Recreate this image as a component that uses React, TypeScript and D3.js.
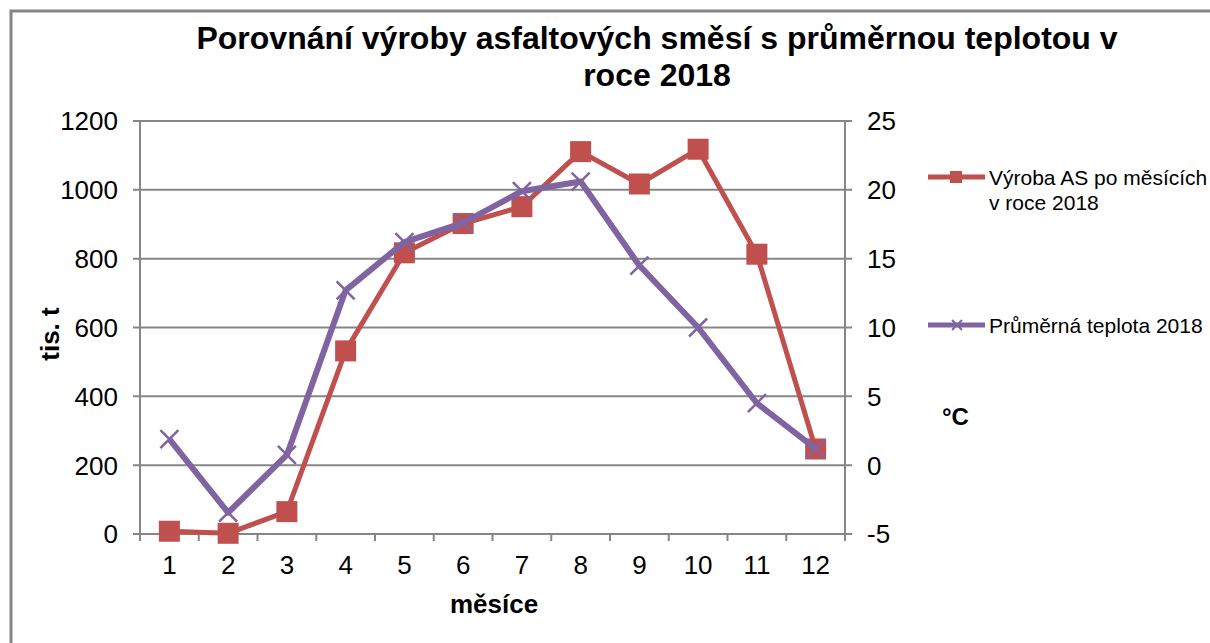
import { useEffect, useRef } from 'react'
import * as d3 from 'd3'

const months = ['1', '2', '3', '4', '5', '6', '7', '8', '9', '10', '11', '12']
const production = [8, 2, 65, 532, 817, 902, 951, 1111, 1017, 1118, 813, 247]
const temperature = [1.9, -3.45, 0.74, 12.7, 16.2, 17.6, 19.9, 20.6, 14.5, 10.0, 4.5, 1.2]
const leftTicks = [0, 200, 400, 600, 800, 1000, 1200]
const rightTicks = [-5, 0, 5, 10, 15, 20, 25]

const seriesNames = ['Výroba AS po měsících', 'v roce 2018', 'Průměrná teplota 2018']

const RED = '#C0504D'
const PURPLE = '#8064A2'
const GRID = '#868686'

export default function App() {
  const svgRef = useRef<SVGSVGElement>(null)
  const width = 1210
  const height = 643

  useEffect(() => {
    if (!svgRef.current) return
    const svg = d3.select(svgRef.current)
    svg.selectAll('*').remove()

    const left = 140
    const right = 845
    const top = 121
    const bottom = 534
    const font = 'Liberation Sans, Arial, sans-serif'

    // outer frame (only top and left edges are visible)
    svg.append('rect')
      .attr('x', 11).attr('y', 11)
      .attr('width', 2000).attr('height', 2000)
      .attr('fill', 'white')
      .attr('stroke', GRID).attr('stroke-width', 3)

    const x = d3.scaleBand<string>().domain(months).range([left, right])
    const yL = d3.scaleLinear().domain([0, 1200]).range([bottom, top])
    const yR = d3.scaleLinear().domain([-5, 25]).range([bottom, top])

    // gridlines + left ticks
    leftTicks.forEach(t => {
      svg.append('line')
        .attr('x1', left - 7).attr('x2', right + 7)
        .attr('y1', yL(t)).attr('y2', yL(t))
        .attr('stroke', GRID).attr('stroke-width', 2)
      svg.append('text')
        .attr('x', 118).attr('y', yL(t))
        .attr('dy', '0.36em')
        .attr('text-anchor', 'end')
        .style('font-family', font).style('font-size', '26px')
        .attr('fill', '#000')
        .text(t)
    })

    rightTicks.forEach(t => {
      svg.append('text')
        .attr('x', 867).attr('y', yR(t))
        .attr('dy', '0.36em')
        .style('font-family', font).style('font-size', '26px')
        .attr('fill', '#000')
        .text(t)
    })

    // vertical axes
    svg.append('line')
      .attr('x1', left).attr('x2', left).attr('y1', top).attr('y2', bottom + 7)
      .attr('stroke', GRID).attr('stroke-width', 2)
    svg.append('line')
      .attr('x1', right).attr('x2', right).attr('y1', top).attr('y2', bottom + 7)
      .attr('stroke', GRID).attr('stroke-width', 2)

    // x ticks at band edges
    months.forEach((m, i) => {
      const bx = (x(m) ?? 0) + x.bandwidth()
      if (i < months.length - 1) {
        svg.append('line')
          .attr('x1', bx).attr('x2', bx).attr('y1', bottom).attr('y2', bottom + 7)
          .attr('stroke', GRID).attr('stroke-width', 2)
      }
      svg.append('text')
        .attr('x', (x(m) ?? 0) + x.bandwidth() / 2).attr('y', 574)
        .attr('text-anchor', 'middle')
        .style('font-family', font).style('font-size', '26px')
        .attr('fill', '#000')
        .text(m)
    })

    const cx = (i: number) => (x(months[i]) ?? 0) + x.bandwidth() / 2

    // production line
    const lineL = d3.line<number>().x((_, i) => cx(i)).y(d => yL(d))
    svg.append('path')
      .attr('d', lineL(production) || '')
      .attr('fill', 'none').attr('stroke', RED).attr('stroke-width', 5)
      .attr('stroke-linejoin', 'round')
    const sq = 21
    svg.selectAll('rect.sq')
      .data(production)
      .enter()
      .append('rect')
      .attr('class', 'sq')
      .attr('x', (_, i) => cx(i) - sq / 2)
      .attr('y', d => yL(d) - sq / 2)
      .attr('width', sq).attr('height', sq)
      .attr('fill', RED)

    // temperature line
    const lineR = d3.line<number>().x((_, i) => cx(i)).y(d => yR(d))
    svg.append('path')
      .attr('d', lineR(temperature) || '')
      .attr('fill', 'none').attr('stroke', PURPLE).attr('stroke-width', 6)
      .attr('stroke-linejoin', 'round')
    const xm = 9
    temperature.forEach((d, i) => {
      const px = cx(i)
      const py = yR(d)
      svg.append('path')
        .attr('d', `M${px - xm},${py - xm}L${px + xm},${py + xm}M${px - xm},${py + xm}L${px + xm},${py - xm}`)
        .attr('stroke', PURPLE).attr('stroke-width', 2.5)
    })

    // title
    const title = svg.append('text')
      .attr('text-anchor', 'middle')
      .style('font-family', font).style('font-size', '32px').style('font-weight', 'bold')
      .attr('fill', '#000')
    title.append('tspan').attr('x', 657).attr('y', 49).text('Porovnání výroby asfaltových směsí s průměrnou teplotou v')
    title.append('tspan').attr('x', 657).attr('y', 86).text('roce 2018')

    // axis titles
    svg.append('text')
      .attr('transform', 'translate(59,334) rotate(-90)')
      .attr('text-anchor', 'middle')
      .style('font-family', font).style('font-size', '26px').style('font-weight', 'bold')
      .text('tis. t')
    svg.append('text')
      .attr('x', 494).attr('y', 613)
      .attr('text-anchor', 'middle')
      .style('font-family', font).style('font-size', '26px').style('font-weight', 'bold')
      .text('měsíce')
    svg.append('text')
      .attr('x', 942).attr('y', 425)
      .style('font-family', font).style('font-size', '24px').style('font-weight', 'bold')
      .text('°C')

    // legend
    const lg1 = 177
    svg.append('line').attr('x1', 928).attr('x2', 985).attr('y1', lg1).attr('y2', lg1)
      .attr('stroke', RED).attr('stroke-width', 5)
    svg.append('rect').attr('x', 950).attr('y', lg1 - 6).attr('width', 12).attr('height', 12).attr('fill', RED)
    svg.append('text').attr('x', 989).attr('y', lg1).attr('dy', '0.36em')
      .style('font-family', font).style('font-size', '21px').text(seriesNames[0])
    svg.append('text').attr('x', 989).attr('y', lg1 + 25).attr('dy', '0.36em')
      .style('font-family', font).style('font-size', '21px').text(seriesNames[1])

    const lg2 = 325
    svg.append('line').attr('x1', 928).attr('x2', 985).attr('y1', lg2).attr('y2', lg2)
      .attr('stroke', PURPLE).attr('stroke-width', 5)
    svg.append('path')
      .attr('d', `M${957 - 5},${lg2 - 5}L${957 + 5},${lg2 + 5}M${957 - 5},${lg2 + 5}L${957 + 5},${lg2 - 5}`)
      .attr('stroke', PURPLE).attr('stroke-width', 2)
    svg.append('text').attr('x', 989).attr('y', lg2).attr('dy', '0.36em')
      .style('font-family', font).style('font-size', '21px').text(seriesNames[2])
  }, [])

  return (
    <div style={{ position: 'fixed', left: 0, top: 0, width, height, overflow: 'hidden' }}>
      <svg ref={svgRef} width={width} height={height} style={{ display: 'block' }} />
    </div>
  )
}
